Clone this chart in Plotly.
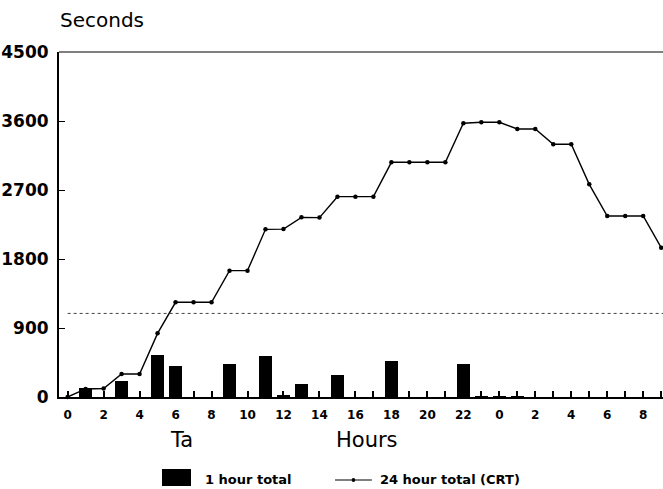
import plotly.graph_objects as go

# ---- data ----
hours = list(range(34))
tick_labels = [str(h % 24) if h % 2 == 0 else "" for h in hours]
cumulative_24h = [0, 105, 110, 300, 300, 830, 1235, 1235, 1235, 1648, 1648, 2187,
                  2190, 2343, 2340, 2613, 2613, 2613, 3061, 3061, 3061, 3061, 3570,
                  3583, 3583, 3496, 3496, 3296, 3296, 2774, 2361, 2361, 2361, 1948]
bar_hours = [1, 3, 5, 6, 9, 11, 12, 13, 15, 18, 22, 23, 24, 25]
bar_values = [113, 213, 543, 409, 435, 539, 20, 174, 287, 470, 426, 12, 8, 10]
threshold = 1090
y_ticks = [0, 900, 1800, 2700, 3600, 4500]

FONT = "DejaVu Sans"

fig = go.Figure()
fig.add_trace(go.Bar(x=bar_hours, y=bar_values, width=0.72,
                     marker=dict(color="black", line=dict(width=0)),
                     name="1 hour total", showlegend=False))
fig.add_trace(go.Scatter(x=hours, y=cumulative_24h, mode="lines+markers",
                         line=dict(color="black", width=1.4),
                         marker=dict(color="black", size=4.5),
                         name="24 hour total (CRT)", showlegend=False,
                         cliponaxis=False))

fig.add_shape(type="line", xref="x", yref="y", x0=0, x1=33.1,
              y0=threshold, y1=threshold,
              line=dict(color="#444", width=1, dash="dot"))
# top border
fig.add_shape(type="line", xref="paper", yref="paper", x0=0, x1=1, y0=1, y1=1,
              line=dict(color="black", width=1))

# custom legend
fig.add_shape(type="rect", xref="paper", yref="paper",
              x0=0.1705, x1=0.2185, y0=-0.258, y1=-0.2087,
              fillcolor="black", line=dict(width=0))
fig.add_shape(type="line", xref="paper", yref="paper",
              x0=0.457, x1=0.518, y0=-0.2406, y1=-0.2406,
              line=dict(color="black", width=1.2))
fig.add_shape(type="circle", xref="paper", yref="paper",
              x0=0.4845, x1=0.4905, y0=-0.2466, y1=-0.2346,
              fillcolor="black", line=dict(width=0))

ann_font = dict(family=FONT, size=13, color="black", weight="bold")
fig.add_annotation(text="1 hour total", xref="paper", yref="paper",
                   x=0.2384, y=-0.2377, xanchor="left", yanchor="middle",
                   showarrow=False, font=ann_font)
fig.add_annotation(text="24 hour total (CRT)", xref="paper", yref="paper",
                   x=0.528, y=-0.2377, xanchor="left", yanchor="middle",
                   showarrow=False, font=ann_font)
fig.add_annotation(text="Seconds", xref="paper", yref="paper",
                   x=-0.002, y=1.092, xanchor="left", yanchor="middle",
                   showarrow=False, font=dict(family=FONT, size=20, color="black"))
fig.add_annotation(text="Ta", xref="paper", yref="paper",
                   x=0.2036, y=-0.1246, xanchor="center", yanchor="middle",
                   showarrow=False, font=dict(family=FONT, size=21, color="black"))
fig.add_annotation(text="Hours", xref="paper", yref="paper",
                   x=0.51, y=-0.1246, xanchor="center", yanchor="middle",
                   showarrow=False, font=dict(family=FONT, size=21, color="black"))

fig.update_layout(
    width=663, height=489,
    margin=dict(l=59, r=0, t=52, b=92),
    plot_bgcolor="white", paper_bgcolor="white",
    showlegend=False,
    bargap=0,
    xaxis=dict(range=[-0.48, 33.1], tickmode="array", tickvals=hours,
               ticktext=tick_labels, ticks="inside", ticklen=6, tickwidth=1.5,
               tickcolor="black", showline=True, linecolor="black", linewidth=2,
               showgrid=False, zeroline=False, ticklabelstandoff=6,
               tickfont=dict(family=FONT, size=12, color="black", weight="bold")),
    yaxis=dict(range=[0, 4500], tickmode="array", tickvals=y_ticks,
               ticks="inside", ticklen=6, tickwidth=1.2, tickcolor="black",
               showline=True, linecolor="black", linewidth=2,
               showgrid=False, zeroline=False, ticklabelstandoff=5,
               tickfont=dict(family=FONT, size=17, color="black", weight="bold")),
)

fig.write_html(
    "out.html",
    config={"displayModeBar": False},
    post_script="document.body.style.margin='0';document.body.style.overflow='hidden';",
)
